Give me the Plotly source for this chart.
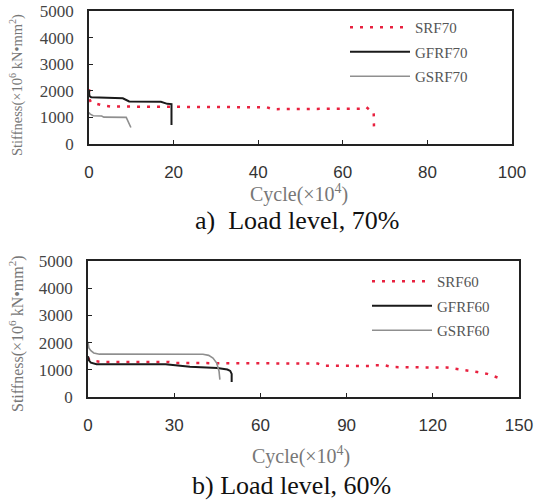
import plotly.graph_objects as go

# ---------- data (cycles in x10^4, stiffness in x10^6 kN*mm^2) ----------
srf70_x = [0, 0.2, 0.5, 1.5, 3, 5, 15, 30, 42, 43.5, 55, 64.8, 65.6, 66.5, 67.3, 67.4]
srf70_y = [2060, 1650, 1560, 1520, 1460, 1410, 1395, 1385, 1380, 1310, 1310, 1330, 1380, 1260, 1200, 410]
gfrf70_x = [0, 0.1, 0.5, 5, 8, 9.5, 17, 18.5, 19.5, 19.5]
gfrf70_y = [2000, 1800, 1760, 1740, 1720, 1600, 1590, 1510, 1500, 710]
gsrf70_x = [0, 0.3, 1, 3, 3.5, 8.8, 9.9]
gsrf70_y = [1180, 1120, 1060, 1050, 1010, 1000, 620]

srf60_x = [0, 0.5, 2, 5, 28, 30, 80, 82, 99, 100, 103, 106, 125, 130, 135.5, 139, 141.5, 143, 144]
srf60_y = [1450, 1360, 1320, 1290, 1290, 1250, 1230, 1150, 1140, 1170, 1170, 1100, 1080, 1010, 920, 850, 760, 700, 550]
gfrf60_x = [0, 0.3, 1, 3, 27, 35.5, 45, 48.5, 49.5, 50, 50]
gfrf60_y = [1500, 1350, 1260, 1205, 1200, 1110, 1070, 1010, 960, 850, 550]
gsrf60_x = [0, 0.3, 1, 2, 4, 40, 42, 43.5, 44.8, 45.6, 45.9]
gsrf60_y = [2030, 1800, 1700, 1620, 1575, 1570, 1530, 1430, 1250, 950, 640]

y_ticks = [0, 1000, 2000, 3000, 4000, 5000]
x_ticks_a = [0, 20, 40, 60, 80, 100]
x_ticks_b = [0, 30, 60, 90, 120, 150]

RED = "#e8213f"
BLACK = "#1a1a1a"
GRAY = "#8f8f8f"
DOT = "3px,7px"

fig = go.Figure()

def add(x, y, name, color, width, dash, xa, ya, legend, group):
    fig.add_trace(go.Scatter(
        x=x, y=y, mode="lines", name=name,
        line=dict(color=color, width=width, dash=dash),
        xaxis=xa, yaxis=ya, legend=legend, legendgroup=group,
        showlegend=True,
    ))

add(srf70_x, srf70_y, "SRF70", RED, 2.5, DOT, "x", "y", "legend", "a1")
add(gfrf70_x, gfrf70_y, "GFRF70", BLACK, 2, "solid", "x", "y", "legend", "a2")
add(gsrf70_x, gsrf70_y, "GSRF70", GRAY, 1.6, "solid", "x", "y", "legend", "a3")

add(srf60_x, srf60_y, "SRF60", RED, 2.5, DOT, "x2", "y2", "legend2", "b1")
add(gfrf60_x, gfrf60_y, "GFRF60", BLACK, 2, "solid", "x2", "y2", "legend2", "b2")
add(gsrf60_x, gsrf60_y, "GSRF60", GRAY, 1.6, "solid", "x2", "y2", "legend2", "b3")

W, H = 536, 504

def px(v):
    return v / W

def py(v):
    return 1 - v / H

axis_common = dict(
    showline=True, mirror=True, linecolor="#222", linewidth=1.6,
    showgrid=False, zeroline=False, ticks="inside", ticklen=4,
    tickcolor="#222", tickwidth=1, automargin=False,
)
xfont = dict(family="Liberation Sans, Arial, sans-serif", size=17, color="#333")
yfont = dict(family="Liberation Serif, Times New Roman, serif", size=17, color="#444")
legfont = dict(family="Liberation Serif, serif", size=15, color="#555")

fig.update_layout(
    width=W, height=H,
    margin=dict(l=0, r=0, t=0, b=0),
    paper_bgcolor="white", plot_bgcolor="white",
    showlegend=True,
    xaxis=dict(domain=[px(89), px(512)], range=[0, 100], tickvals=x_ticks_a,
               anchor="y", tickfont=xfont, ticklabelstandoff=12, **axis_common),
    yaxis=dict(domain=[py(144), py(11)], range=[0, 5000], tickvals=y_ticks,
               anchor="x", tickfont=yfont, ticklabelstandoff=10, **axis_common),
    xaxis2=dict(domain=[px(88), px(519)], range=[0, 150], tickvals=x_ticks_b,
                anchor="y2", tickfont=xfont, ticklabelstandoff=12, **axis_common),
    yaxis2=dict(domain=[py(397), py(261)], range=[0, 5000], tickvals=y_ticks,
                anchor="x2", tickfont=yfont, ticklabelstandoff=10, **axis_common),
    legend=dict(x=px(345), y=py(11), xanchor="left", yanchor="top",
                bgcolor="rgba(0,0,0,0)", itemwidth=60, tracegroupgap=2,
                font=legfont),
    legend2=dict(x=px(367), y=py(265), xanchor="left", yanchor="top",
                 bgcolor="rgba(0,0,0,0)", itemwidth=60, tracegroupgap=2,
                 font=legfont),
)

title_font = dict(family="Liberation Serif, serif", color="#777")
cap_font = dict(family="Liberation Serif, serif", color="#111", size=26)

annotations = [
    dict(text="Stiffness(×10<sup>6</sup> kN•mm<sup>2</sup>)", x=px(16), y=py(85),
         textangle=-90, font=dict(size=14.5, **title_font)),
    dict(text="Stiffness(×10<sup>6</sup> kN•mm<sup>2</sup>)", x=px(16), y=py(334),
         textangle=-90, font=dict(size=16, **title_font)),
    dict(text="Cycle(×10<sup>4</sup>)", x=px(299), y=py(194), font=dict(size=20, **title_font)),
    dict(text="Cycle(×10<sup>4</sup>)", x=px(301), y=py(455), font=dict(size=20, **title_font)),
    dict(text="a)  Load level, 70%", x=px(297), y=py(220), font=cap_font),
    dict(text="b) Load level, 60%", x=px(291), y=py(485), font=cap_font),
]
for a in annotations:
    a.update(xref="paper", yref="paper", showarrow=False, xanchor="center", yanchor="middle")
    fig.add_annotation(**a)

# remove the browser's default 8px body margin so the figure fills the window
fig.write_html(
    "out.html",
    config={"displayModeBar": False},
    post_script="document.body.style.margin='0';document.body.style.padding='0';",
)
